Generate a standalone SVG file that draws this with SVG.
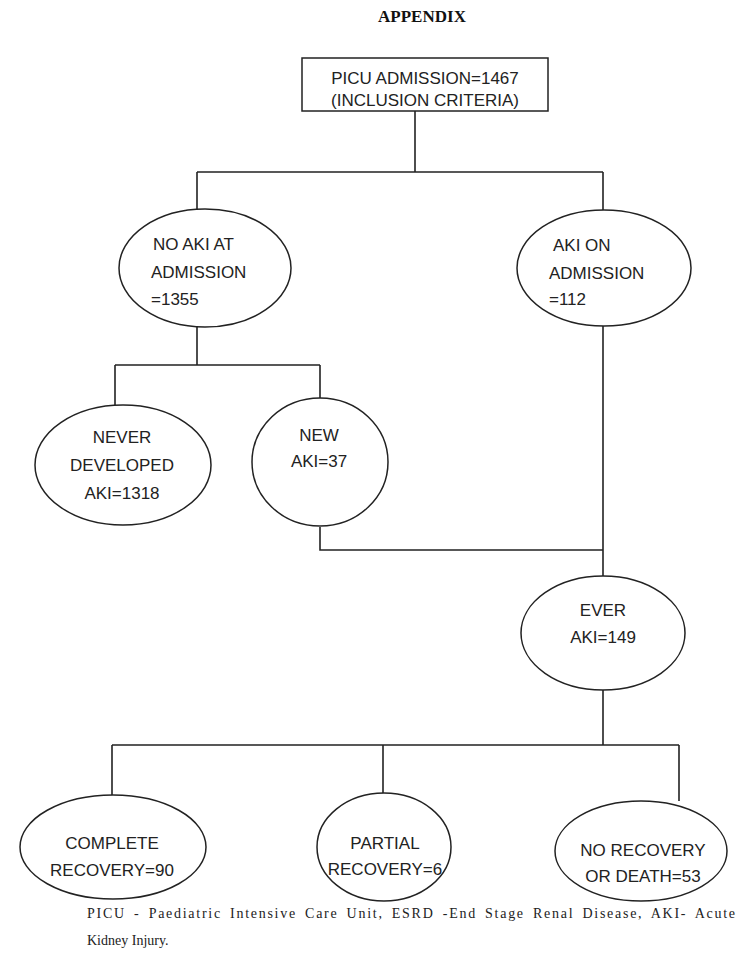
<svg xmlns="http://www.w3.org/2000/svg" width="749" height="955" viewBox="0 0 749 955">
<style>
.shape{fill:#fff;stroke:#222;stroke-width:1.5}
.lbl{font-family:"Liberation Sans",Arial,sans-serif;font-size:17px;fill:#222}
.c{text-anchor:middle}
.conn{fill:none;stroke:#222;stroke-width:1.6}
.title{font-family:"Liberation Serif","Times New Roman",serif;font-size:17px;font-weight:bold;fill:#111}
.foot{font-family:"Liberation Serif","Times New Roman",serif;font-size:14px;fill:#222}
</style>
<rect width="749" height="955" fill="#fff"/>
<text class="title c" x="422" y="22">APPENDIX</text>
<g id="connectors">
<path class="conn" d="M415 111V172M197 172H603M197 172V210M603 172V210"/>
<path class="conn" d="M197 326V365M115 365H320M115 365V405M320 365V398"/>
<path class="conn" d="M603 326V577M320 527V550H603"/>
<path class="conn" d="M603 690V745M112 745H679M112 745V796M383 745V794M679 745V801"/>
</g>
<g id="picu">
<rect class="shape" x="302" y="58" width="246" height="53"/>
<text class="lbl c" x="425" y="84">PICU ADMISSION=1467</text>
<text class="lbl c" x="425" y="106">(INCLUSION CRITERIA)</text>
</g>
<g id="noaki">
<ellipse class="shape" cx="205" cy="268" rx="86" ry="59"/>
<text class="lbl" x="153" y="250">NO AKI AT</text>
<text class="lbl" x="151" y="278">ADMISSION</text>
<text class="lbl" x="151" y="305">=1355</text>
</g>
<g id="akion">
<ellipse class="shape" cx="604" cy="268" rx="87" ry="58"/>
<text class="lbl" x="553" y="251">AKI ON</text>
<text class="lbl" x="549" y="279">ADMISSION</text>
<text class="lbl" x="549" y="305">=112</text>
</g>
<g id="never">
<ellipse class="shape" cx="123" cy="465" rx="88" ry="60"/>
<text class="lbl c" x="122" y="443">NEVER</text>
<text class="lbl c" x="122" y="471">DEVELOPED</text>
<text class="lbl c" x="122" y="499">AKI=1318</text>
</g>
<g id="newaki">
<ellipse class="shape" cx="320" cy="462" rx="68" ry="64"/>
<text class="lbl c" x="319" y="441">NEW</text>
<text class="lbl c" x="319" y="467">AKI=37</text>
</g>
<g id="ever">
<ellipse class="shape" cx="603" cy="633" rx="82" ry="57"/>
<text class="lbl c" x="603" y="616">EVER</text>
<text class="lbl c" x="603" y="643">AKI=149</text>
</g>
<g id="complete">
<ellipse class="shape" cx="113" cy="847" rx="93" ry="52"/>
<text class="lbl c" x="112" y="849">COMPLETE</text>
<text class="lbl c" x="112" y="876">RECOVERY=90</text>
</g>
<g id="partial">
<ellipse class="shape" cx="384" cy="847" rx="67" ry="54"/>
<text class="lbl c" x="385" y="849">PARTIAL</text>
<text class="lbl c" x="385" y="875">RECOVERY=6</text>
</g>
<g id="norecovery">
<ellipse class="shape" cx="641" cy="851" rx="86" ry="50"/>
<text class="lbl c" x="643" y="856">NO RECOVERY</text>
<text class="lbl c" x="643" y="882">OR DEATH=53</text>
</g>
<text class="foot" x="87" y="918" word-spacing="3" textLength="648" lengthAdjust="spacing">PICU - Paediatric Intensive Care Unit, ESRD -End Stage Renal Disease, AKI- Acute</text>
<text class="foot" x="87" y="945">Kidney Injury.</text>
</svg>
